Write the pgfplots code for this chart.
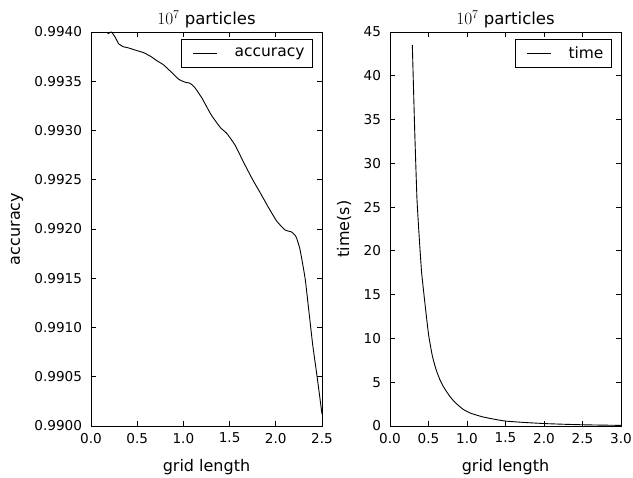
\documentclass[border=0pt]{standalone}
\usepackage{pgfplots}
\pgfplotsset{compat=1.18}
\usepackage{fontspec}
\setmainfont{DejaVu Sans}
\pgfplotstableread{
x y
0.18 0.99398
0.22 0.99400
0.26 0.99395
0.30 0.99388
0.35 0.99385
0.40 0.99384
0.50 0.99381
0.57 0.99379
0.65 0.99375
0.71 0.99371
0.78 0.99367
0.85 0.99361
0.95 0.99352
1.02 0.99349
1.07 0.99348
1.12 0.99344
1.20 0.99333
1.30 0.99316
1.40 0.99303
1.47 0.99297
1.56 0.99285
1.65 0.99268
1.75 0.99250
1.83 0.99237
1.92 0.99222
2.01 0.99208
2.10 0.99199
2.17 0.99197
2.22 0.99192
2.26 0.99180
2.29 0.99165
2.32 0.99148
2.36 0.99115
2.40 0.99082
2.45 0.99048
2.50 0.99012
}\accdata
\pgfplotstableread{
x y
0.29 43.5
0.32 34.0
0.35 26.0
0.38 21.5
0.41 17.6
0.45 14.3
0.50 10.5
0.55 8.0
0.60 6.4
0.65 5.25
0.70 4.4
0.78 3.35
0.85 2.65
0.95 1.90
1.05 1.45
1.20 1.05
1.35 0.78
1.50 0.56
1.75 0.40
2.00 0.28
2.25 0.20
2.50 0.14
2.75 0.10
3.00 0.07
}\timedata
\pgfplotsset{
  myaxis/.style={
    scale only axis,
    width=231pt, height=394pt,
    anchor=south west,
    axis line style={line width=0.8pt},
    tick align=inside,
    major tick length=5pt,
    tick style={line width=0.8pt, black},
    /pgf/number format/assume math mode=true,
    tick label style={font=\fontsize{13.6}{16}\selectfont},
    yticklabel style={xshift=-5.5pt},
    xticklabel style={yshift=-3.5pt},
    label style={font=\fontsize{16}{19}\selectfont},
    xlabel style={at={(axis description cs:0.5,-0.116)}, anchor=base},
    title style={font=\fontsize{16.5}{19}\selectfont, at={(axis description cs:0.5,1)}, anchor=base, yshift=1pt},
    xlabel={grid length},
    title={$10^7$ particles},
    xticklabel style={/pgf/number format/fixed, /pgf/number format/fixed zerofill, /pgf/number format/precision=1},
    legend cell align=left,
    legend image code/.code={\draw[#1] (3.4pt,0pt) -- (27.7pt,0pt); \path[draw=none,fill=none] (0pt,-10pt) rectangle (45.1pt,10pt);},
    legend style={anchor=north east, draw=black, line width=0.8pt,
      font=\fontsize{15.5}{18}\selectfont, inner xsep=8.3pt, inner ysep=4pt,
      column sep=0pt, nodes={inner sep=0pt}},
  }
}
\begin{document}
\begin{tikzpicture}[x=1pt,y=1pt]
\path[use as bounding box] (0,0) rectangle (633,478);
\begin{axis}[myaxis, at={(91pt,52pt)},
  xmin=0, xmax=2.5, ymin=0.9900, ymax=0.9940,
  xtick={0,0.5,...,2.5},
  ytick={0.9900,0.9905,0.9910,0.9915,0.9920,0.9925,0.9930,0.9935,0.9940},
  scaled y ticks=false,
  yticklabel style={/pgf/number format/fixed, /pgf/number format/fixed zerofill, /pgf/number format/precision=4},
  ylabel={accuracy},
  ylabel style={at={(axis description cs:-0.320,0.5)}, anchor=center},
  legend style={at={(0.962,0.983)}},
]
\addplot[black, line width=0.9pt, smooth, tension=0.3] table[x=x,y=y] {\accdata};
\addlegendentry{accuracy}
\end{axis}
\begin{axis}[myaxis, at={(390pt,52pt)},
  xmin=0, xmax=3, ymin=0, ymax=45,
  xtick={0,0.5,...,3},
  ytick={0,5,...,45},
  ylabel={time(s)},
  ylabel style={at={(axis description cs:-0.199,0.5)}, anchor=center},
  legend style={at={(0.962,0.983)}},
]
\addplot[black, line width=0.9pt, smooth, tension=0.3] table[x=x,y=y] {\timedata};
\addlegendentry{time}
\end{axis}
\end{tikzpicture}
\end{document}
